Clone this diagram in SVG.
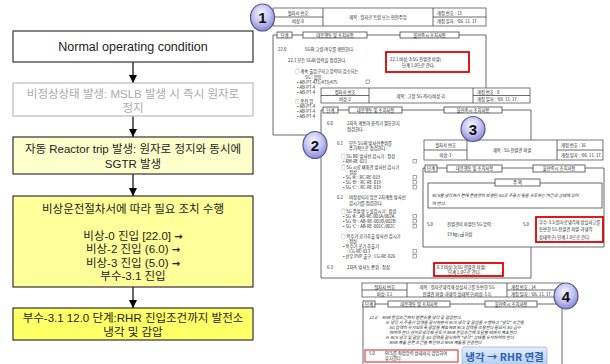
<svg xmlns="http://www.w3.org/2000/svg" width="610" height="364" viewBox="0 0 610 364">
<defs>
<style>
.k{font-family:"Noto Sans CJK KR","Liberation Sans",sans-serif}
.f{font-family:"Liberation Sans","Noto Sans CJK KR",sans-serif}
.fc{font-size:11.5px;fill:#222;text-anchor:middle}
.ar{font-family:"DejaVu Sans",sans-serif;font-weight:bold;font-size:10px}
.box{stroke:#333;stroke-width:1.2}
.pg{fill:#fff;stroke:none}
.ln{fill:none;stroke:#444;stroke-width:0.8}
.hd{fill:#fff;stroke:#555;stroke-width:0.8}
.tab{fill:#fff;stroke:#444;stroke-width:0.8}
.s{font-size:4.3px;fill:#222}
.sc{font-size:4.3px;fill:#222;text-anchor:middle}
.si{font-size:4.2px;fill:#222;font-style:italic}
.red{fill:none;stroke:#e00000;stroke-width:1.8}
.num{font-family:"Liberation Sans",sans-serif;font-weight:bold;font-size:15px;fill:#111;text-anchor:middle}
.bubble{fill:url(#bg);stroke:#55558f;stroke-width:1.2}
</style>
<marker id="ah" viewBox="0 0 10 10" refX="10" refY="5" markerWidth="9" markerHeight="8" markerUnits="userSpaceOnUse" orient="auto">
<path d="M0,0 L10,5 L0,10 z" fill="#000"/>
</marker>
<radialGradient id="bg" cx="45%" cy="35%" r="65%">
<stop offset="0" stop-color="#f6f6ff"/>
<stop offset="0.55" stop-color="#c4c4f2"/>
<stop offset="1" stop-color="#8a8ad6"/>
</radialGradient>
<linearGradient id="btn" x1="0" y1="0" x2="0" y2="1">
<stop offset="0" stop-color="#e4eefa"/>
<stop offset="1" stop-color="#a9c7ea"/>
</linearGradient>
</defs>

<g id="connectors" stroke="#000" stroke-width="1.2">
<line x1="133" y1="62" x2="133" y2="83" marker-end="url(#ah)"/>
<line x1="133" y1="116" x2="133" y2="137" marker-end="url(#ah)"/>
<line x1="133" y1="174" x2="133" y2="196" marker-end="url(#ah)"/>
<line x1="133" y1="287" x2="133" y2="308" marker-end="url(#ah)"/>
</g>

<g id="n1">
<rect x="13" y="31" width="240" height="31" fill="#fff" class="box"/>
<text class="f fc" x="133" y="51" style="font-size:12.5px">Normal operating condition</text>
</g>
<g id="n2">
<rect x="13" y="83" width="240" height="33" fill="#fff" stroke="#bbb" stroke-width="1.2"/>
<text class="f fc" x="133" y="97.5" style="fill:#aaa">비정상상태 발생: MSLB 발생 시 즉시 원자로</text>
<text class="f fc" x="133" y="111.5" style="fill:#aaa">정지</text>
</g>
<g id="n3">
<rect x="13" y="137" width="240" height="37" fill="#ffffcc" class="box"/>
<text class="f fc" x="133" y="153">자동 Reactor trip 발생: 원자로 정지와 동시에</text>
<text class="f fc" x="133" y="167.5">SGTR 발생</text>
</g>
<g id="n4">
<rect x="13" y="196" width="240" height="91" fill="#ffff99" class="box"/>
<text class="f fc" x="133" y="212.5">비상운전절차서에 따라 필요 조치 수행</text>
<text class="f fc" x="133" y="239.5">비상-0 진입 [22.0]  <tspan class="ar">→</tspan></text>
<text class="f fc" x="133" y="253">비상-2 진입 (6.0) <tspan class="ar">→</tspan></text>
<text class="f fc" x="133" y="266.5">비상-3 진입 (5.0) <tspan class="ar">→</tspan></text>
<text class="f fc" x="133" y="280">부수-3.1 진입</text>
</g>
<g id="n5">
<rect x="13" y="308" width="240" height="32" fill="#ffff66" class="box"/>
<text class="f fc" x="133" y="321.5">부수-3.1 12.0 단계:RHR 진입조건까지 발전소</text>
<text class="f fc" x="133" y="336">냉각 및 감압</text>
</g>

<g id="page1" class="k">
<rect class="pg" x="273" y="8" width="213" height="127"/>
<rect class="hd" x="273" y="8" width="213" height="18"/>
<path class="ln" d="M323,8 V26 M433,8 V26 M273,17 H323 M433,17 H486"/>
<text class="sc" x="298" y="14.5">절차서 번호</text>
<text class="sc" x="298" y="23">비상-0</text>
<text class="sc" x="378" y="19">제목 : 원자로 트립 또는 안전주입</text>
<text class="s" x="437" y="14.5">개정 번호 : 13</text>
<text class="s" x="437" y="23">개정 일자 : '06. 11. 17.</text>
<path class="ln" d="M273,35 H486 V135 H273 Z"/>
<rect class="tab" x="277" y="32" width="15" height="6"/>
<text class="sc" x="284.5" y="36.6">단계</text>
<rect class="tab" x="303" y="32" width="64" height="6"/>
<text class="sc" x="335" y="36.6">대응행동 및 조치사항</text>
<rect class="tab" x="400" y="32" width="59" height="6"/>
<text class="sc" x="429.5" y="36.6">불만족시 조치사항</text>
<text class="s" x="278" y="50.5">22.0</text>
<text class="s" x="305" y="50.5">SG의 고립 여부를 확인한다.</text>
<text class="s" x="288" y="61.5">22.1  모든 SG의 압력을 점검한다.</text>
<text class="s" x="295" y="73">○  계속 출입구되고 압력이 감소되는</text>
<text class="s" x="305" y="78.5">SG : 없음</text>
<text class="s" x="297" y="84">• AB-PT-471/473/475</text>
<rect x="366" y="80" width="3.5" height="3.5" fill="none" stroke="#555" stroke-width="0.5"/>
<text class="s" x="297" y="89">• AB-PT-4</text>
<text class="s" x="297" y="94">• AB-PT-4</text>
<text class="s" x="295" y="103">○  종전 압</text>
<text class="s" x="297" y="108">• AB-PT-4</text>
<text class="s" x="297" y="113">• AB-PT-4</text>
<text class="s" x="297" y="118">• AB-PT-4</text>
<rect class="red" x="386" y="52" width="83" height="20"/>
<text class="s" x="390" y="60.5">22.1   비상-3(SG 전열관 파열)</text>
<text class="s" x="402" y="66.5">단계 1.0으로 간다.</text>
</g>

<g id="page2" class="k">
<rect class="pg" x="321" y="88" width="210" height="190"/>
<rect class="hd" x="321" y="88" width="209" height="15"/>
<path class="ln" d="M369,88 V103 M473,88 V103 M321,95.5 H369 M473,95.5 H530"/>
<text class="sc" x="345" y="93.6">절차서 번호</text>
<text class="sc" x="345" y="101">비상-2</text>
<text class="sc" x="421" y="97.5">제목 : 고장 SG 격리(비상-2)</text>
<text class="s" x="477" y="93.6">개정 번호 : 8</text>
<text class="s" x="477" y="101">개정 일자 : '06. 11. 17.</text>
<path class="ln" d="M321,110 H531 V278 H321 Z"/>
<rect class="tab" x="323" y="107" width="15" height="6"/>
<text class="sc" x="330.5" y="111.6">단계</text>
<rect class="tab" x="349" y="107" width="53" height="6"/>
<text class="sc" x="375.5" y="111.6">대응행동 및 조치사항</text>
<rect class="tab" x="444" y="107" width="58" height="6"/>
<text class="sc" x="473" y="111.6">불만족시 조치사항</text>
<text class="s" x="327" y="124.5">6.0</text>
<text class="s" x="347" y="124.5">2차측 계통이 충격기 필요한지</text>
<text class="s" x="347" y="130.5">점검한다.</text>
<text class="s" x="337" y="144.5">6.1</text>
<text class="s" x="349" y="144.5">모든 SG의 방사선준위를</text>
<text class="s" x="349" y="150">주기적으로 점검한다.</text>
<text class="s" x="341" y="158">○  SG BD 방사선 감시기 : 정상</text>
<text class="s" x="343" y="163">• RM-RE-021</text>
<text class="s" x="341" y="169">○  SG 시료 채취관 방사선 감시기</text>
<text class="s" x="347" y="174">: 정상</text>
<text class="s" x="343" y="179">• SG 'A' : RC-RE-019</text>
<text class="s" x="343" y="184">• SG 'B' : RC-RE-019</text>
<text class="s" x="343" y="189">• SG 'C' : RC-RE-019</text>
<text class="s" x="337" y="199">6.2</text>
<text class="s" x="349" y="199">비정상되지 않은 2차계통 방사선</text>
<text class="s" x="349" y="204.5">감시기를 점검한다.</text>
<text class="s" x="341" y="213">○  SG 주발생 누설감시기 : 정상</text>
<text class="s" x="343" y="218">• SG 'A' : AB-RE-001A/002A</text>
<text class="s" x="343" y="223">• SG 'B' : AB-RE-001B/002B</text>
<text class="s" x="343" y="228">• SG 'C' : AB-RE-001C/002C</text>
<text class="s" x="341" y="238">○  복수기 공기추출 방사선 감시기</text>
<text class="s" x="347" y="243">: 정상</text>
<text class="s" x="343" y="248">• 복수기 공기 추출기</text>
<text class="s" x="347" y="253">: CG-RE-013</text>
<text class="s" x="343" y="258">• 선우 PVP 출구 : CG-RE-026</text>
<g fill="none" stroke="#555" stroke-width="0.5">
<rect x="413" y="159.5" width="3.5" height="3.5"/>
<rect x="413" y="175.5" width="3.5" height="3.5"/>
<rect x="413" y="180.5" width="3.5" height="3.5"/>
<rect x="413" y="185.5" width="3.5" height="3.5"/>
<rect x="413" y="214.5" width="3.5" height="3.5"/>
<rect x="413" y="219.5" width="3.5" height="3.5"/>
<rect x="413" y="224.5" width="3.5" height="3.5"/>
<rect x="413" y="249.5" width="3.5" height="3.5"/>
<rect x="413" y="254.5" width="3.5" height="3.5"/>
</g>
<text class="s" x="327" y="268.5">6.3</text>
<text class="s" x="347" y="268.5">2차측 방사능 준위 : 정상</text>
<rect class="red" x="434" y="263" width="69" height="13"/>
<text class="s" x="437" y="268.5">6.3   비상-3(SG 전열관 파열)</text>
<text class="s" x="448" y="274">단계 1.0으로 간다.</text>
</g>

<g id="page3" class="k">
<rect class="pg" x="423" y="140" width="181" height="107"/>
<rect class="hd" x="424" y="140" width="179" height="20"/>
<path class="ln" d="M467,140 V160 M557,140 V160 M424,150 H467 M557,150 H603"/>
<text class="sc" x="445.5" y="147">절차서 번호</text>
<text class="sc" x="445.5" y="157">비상-3</text>
<text class="sc" x="512" y="152">제목 : SG 전열관 파열</text>
<text class="s" x="561" y="147">개정 번호 : 16</text>
<text class="s" x="561" y="157">개정 일자 : '06. 11. 17.</text>
<path class="ln" d="M423,168 H604 V247 H423 Z"/>
<rect class="tab" x="425" y="165" width="12" height="7"/>
<text class="sc" x="431" y="170.2">단계</text>
<rect class="tab" x="447" y="165" width="55" height="7"/>
<text class="sc" x="474.5" y="170.2">대응행동 및 조치사항</text>
<rect class="tab" x="533" y="165" width="52" height="7"/>
<text class="sc" x="559" y="170.2">불만족시 조치사항</text>
<rect class="ln" x="428" y="183" width="174" height="25"/>
<rect class="tab" x="495" y="179" width="45" height="7"/>
<text class="sc" x="517.5" y="184.2">주    의</text>
<text class="si" x="432" y="196.5">RCS를 냉각하기 전에 전열관이 파열된 SG로 주증기 등을 유도하는 여건의 상태에 있어</text>
<text class="si" x="432" y="205">야 한다.</text>
<text class="s" x="427" y="225.5">5.0</text>
<text class="s" x="447" y="225.5">전열관이 파열된 SG 압력 :</text>
<text class="s" x="447" y="235.5">19 kg/㎠ 이상</text>
<text class="s" x="523" y="225.5">5.0</text>
<rect class="red" x="536" y="217" width="67" height="25"/>
<text class="s" x="539" y="223.5">부수-3.1(원자로냉각재 상실사고를</text>
<text class="s" x="539" y="231">동반한 SG 전열관 파열-과냉각</text>
<text class="s" x="539" y="238.5">상태복구) 단계 1.0으로 간다.</text>
</g>

<g id="page4" class="k">
<rect class="pg" x="362" y="283" width="201" height="81"/>
<rect class="hd" x="362" y="283" width="201" height="14"/>
<path class="ln" d="M407,283 V297 M507,283 V297 M362,290 H407 M507,290 H563"/>
<text class="sc" x="384.5" y="288.6">절차서 번호</text>
<text class="sc" x="384.5" y="295.6">비상-3.1</text>
<text class="sc" x="457" y="288.6">제목 : 원자로냉각재 상실사고를 동반한 SG</text>
<text class="sc" x="457" y="295.6">전열관 파열-과냉각 상태복구(비상-3.1)</text>
<text class="s" x="511" y="288.6">개정 번호 : 14</text>
<text class="s" x="511" y="295.6">개정 일자 : '06. 11. 17.</text>
<path class="ln" d="M363,368 V304 H562 V368"/>
<rect class="tab" x="363" y="301" width="12" height="6"/>
<text class="sc" x="369" y="305.6">단계</text>
<rect class="tab" x="388" y="301" width="62" height="6"/>
<text class="sc" x="419" y="305.6">대응행동 및 조치사항</text>
<rect class="tab" x="485" y="301" width="52" height="6"/>
<text class="sc" x="511" y="305.6">불만족시 조치사항</text>
<text class="si" x="369" y="318.5">12.0</text>
<text class="si" x="382" y="318.5">RHR 진입조건까지 발전소를 냉각 및 감압한다</text>
<text class="si" x="385" y="323.5">※ 냉각 시 주증기 압력을 감시하면서 RCS 냉각 및 감압을 수행하고 "냉각" 조건을</text>
<text class="si" x="389" y="328.5">SG 압력이 유지되도록 감압을 계속하며 RCS 압력을 조절한다 필요시 SG 급수</text>
<text class="si" x="389" y="333.5">하여야 한다 원자로냉각재 온도가 RHR 진입조건에 도달할 때까지 계속한다</text>
<text class="si" x="385" y="338.5">※ RCS 냉각 및 감압 중 SG 압력을 감시하여 "냉각" 상태를 유지하여야 한다</text>
<text class="si" x="389" y="343.5">RHR 계통 운전 조건을 확인하고 RHR 계통을 연결한다</text>
<rect x="365" y="350" width="93" height="12" fill="none" stroke="#e06a6a" stroke-width="1.5"/>
<text class="s" x="369" y="355">5.0</text>
<text class="s" x="385" y="355">RCS를 적정압력 상태까지 감압하여</text>
<text class="s" x="385" y="360">유지한다.</text>
<rect x="462" y="347" width="85" height="22" rx="2" fill="url(#btn)" stroke="#9fb8d8" stroke-width="0.8"/>
<text x="504.5" y="360.5" text-anchor="middle" font-family="Noto Sans CJK KR, sans-serif" font-weight="bold" font-size="10.5" fill="#2b5fb5">냉각 → RHR 연결</text>
</g>

<g id="badge1"><ellipse class="bubble" cx="262.5" cy="17.5" rx="12" ry="13.5"/><text class="num" x="262.5" y="23">1</text></g>
<g id="badge2"><ellipse class="bubble" cx="315" cy="145" rx="12" ry="13.5"/><text class="num" x="315" y="150.5">2</text></g>
<g id="badge3"><ellipse class="bubble" cx="473" cy="129" rx="12" ry="12.5"/><text class="num" x="473" y="134.5">3</text></g>
<g id="badge4"><ellipse class="bubble" cx="566" cy="296" rx="12" ry="13"/><text class="num" x="566" y="301.5">4</text></g>
</svg>
